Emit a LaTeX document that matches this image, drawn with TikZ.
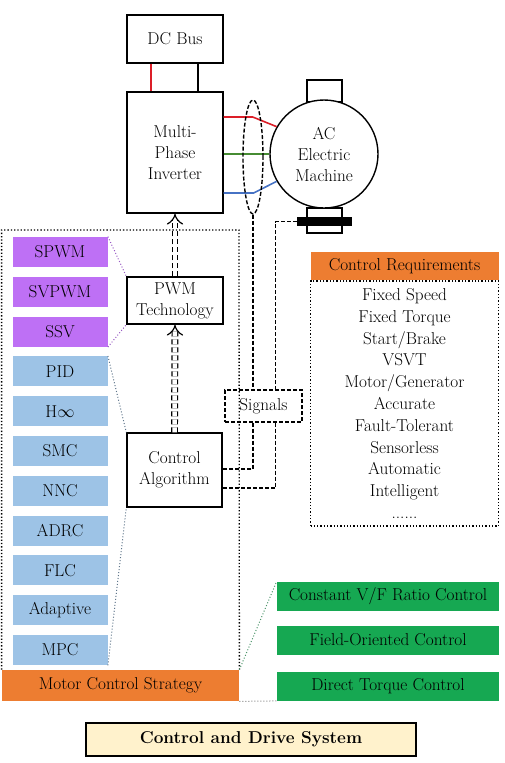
\documentclass[tikz,border=0pt]{standalone}
\usepackage{xcolor}
\usepackage{amsmath}
\usetikzlibrary{calc, positioning, shapes.geometric, arrows.meta}

\definecolor{pwmpurple}{RGB}{190,112,245}
\definecolor{algblue}{RGB}{157,195,230}
\definecolor{strorange}{RGB}{237,125,49}
\definecolor{ctlgreen}{RGB}{22,168,82}
\definecolor{titlebeige}{RGB}{255,242,204}
\definecolor{phasered}{RGB}{220,30,40}
\definecolor{phasegreen}{RGB}{70,140,50}
\definecolor{phaseblue}{RGB}{70,114,196}

\begin{document}
\begin{tikzpicture}[x=1pt,y=-1pt,thick,node distance=9pt,
    txt/.style={font=\fontsize{17.2}{21}\selectfont,text=black,align=center,inner sep=0pt},
    box/.style={txt,rectangle,draw,line width=1.4pt,fill=white},
    method node/.style={txt,rectangle,minimum width=95pt,minimum height=30pt},
    ctrl node/.style={txt,rectangle,fill=ctlgreen,minimum width=222pt,minimum height=29pt},
    sigline/.style={line width=1.4pt,dash pattern=on 4pt off 2pt},
    frameline/.style={line width=1.3pt,dotted},
    link/.style={line width=1pt,dotted},
    dblarrow/.style={double,double distance=4.5pt,line width=1.2pt,
      dash pattern=on 5pt off 3pt,-{Implies[length=9pt,width=18pt]}}]

  \useasboundingbox[fill=white] (0,0) rectangle (504,763);

  % power part
  \node[box,minimum width=96pt,minimum height=48pt] (dc) at (175,39) {DC Bus};
  \node[box,minimum width=96pt,minimum height=121pt] (inv) at (175,152.5) {Multi-\\Phase\\Inverter};

  \node[box,minimum width=35pt,minimum height=22pt] (mtop) at (324.5,91) {};
  \node[box,minimum width=35pt,minimum height=25pt] (mbot) at (324.5,220.5) {};
  \node[box,circle,minimum size=108pt] (motor) at (324,154) {AC\\Electric\\Machine};
  \node[rectangle,fill=black,minimum width=55pt,minimum height=9pt,inner sep=0pt] (bar) at (324.5,221.5) {};

  \draw[phasered,line width=1.6pt] ([xshift=-24pt]dc.south) -- ([xshift=-24pt]inv.north);
  \draw[line width=1.6pt] ([xshift=23pt]dc.south) -- ([xshift=23pt]inv.north);

  \draw[phasered,line width=1.6pt] ([yshift=35.5pt]inv.east) -- ++(29,0) -- (motor.150);
  \draw[phasegreen,line width=1.6pt] (inv.east |- motor.west) -- (motor.west);
  \draw[phaseblue,line width=1.6pt] ([yshift=-40.5pt]inv.east) -- ++(30,0) -- (motor.210);

  \node[ellipse,draw,sigline,minimum width=20pt,minimum height=114pt,inner sep=0pt] (bundle) at (253,157) {};

  % control part
  \node[box,minimum width=96pt,minimum height=47pt] (pwm) at (175,300.5) {PWM\\Technology};
  \node[box,minimum width=95pt,minimum height=74pt] (ctrl) at (174.5,470) {Control\\Algorithm};
  \node[box,sigline,minimum width=77pt,minimum height=32pt] (sig) at (263.5,406) {Signals};

  \draw[sigline] (bundle.south) -- (bundle.south |- sig.north);
  \draw[sigline] (bar.west) -| ([xshift=12pt]sig.north);
  \draw[sigline] ([xshift=-10.5pt]sig.south) |- ([yshift=1pt]ctrl.east);
  \draw[sigline] ([xshift=12pt]sig.south) |- ([yshift=-18pt]ctrl.east);

  \draw[dblarrow] (ctrl.north) -- (pwm.south);
  \draw[dblarrow] (pwm.north) -- (inv.south);

  % motor control strategy
  \node[txt,rectangle,fill=strorange,minimum width=237pt,minimum height=31pt] (mcs) at (120.5,685.5) {Motor Control Strategy};
  \coordinate (ftop) at (239,230);
  \draw[frameline] (mcs.north west) |- (ftop) -- (mcs.north east);

  \node[method node,fill=pwmpurple] (spwm) at (60,252) {SPWM};
  \node[method node,fill=pwmpurple,below=of spwm] (svpwm) {SVPWM};
  \node[method node,fill=pwmpurple,below=of svpwm] (ssv) {SSV};
  \node[method node,fill=algblue,below=of ssv] (pid) {PID};
  \node[method node,fill=algblue,below=of pid] (hinf) {H$\infty$};
  \node[method node,fill=algblue,below=of hinf] (smc) {SMC};
  \node[method node,fill=algblue,below=of smc] (nnc) {NNC};
  \node[method node,fill=algblue,below=of nnc] (adrc) {ADRC};
  \node[method node,fill=algblue,below=of adrc] (flc) {FLC};
  \node[method node,fill=algblue,below=of flc] (adapt) {Adaptive};
  \node[method node,fill=algblue,below=of adapt] (mpc) {MPC};

  \draw[link,pwmpurple!80!black] (spwm.north east) -- (pwm.north west);
  \draw[link,pwmpurple!80!black] (ssv.south east) -- (pwm.south west);
  \draw[link,algblue!60!black] (pid.north east) -- (ctrl.north west);
  \draw[link,algblue!60!black] (mpc.south east) -- (ctrl.south west);

  % requirements
  \node[txt,rectangle,fill=strorange,minimum width=188pt,minimum height=28pt] (req) at (404.5,266) {Control Requirements};
  \node[txt,rectangle,draw,frameline,minimum width=188pt,minimum height=245pt,
        font=\fontsize{17.2}{21.8}\selectfont,below=0pt of req] (reqs)
    {Fixed Speed\\Fixed Torque\\Start/Brake\\VSVT\\Motor/Generator\\Accurate\\Fault-Tolerant\\Sensorless\\Automatic\\Intelligent\\......};

  \node[ctrl node] (cvf) at (388,596.5) {Constant V/F Ratio Control};
  \node[ctrl node] (foc) at (388,640) {Field-Oriented Control};
  \node[ctrl node] (dtc) at (388,686) {Direct Torque Control};

  \draw[link,ctlgreen!50!gray] (mcs.north east) -- (cvf.north west);
  \draw[link,gray] (mcs.south east) -- (dtc.south west);

  \node[box,fill=titlebeige,minimum width=330pt,minimum height=33pt,
        font=\fontsize{17.2}{20}\selectfont\bfseries] (title) at (251,739.5) {Control and Drive System};
\end{tikzpicture}
\end{document}
